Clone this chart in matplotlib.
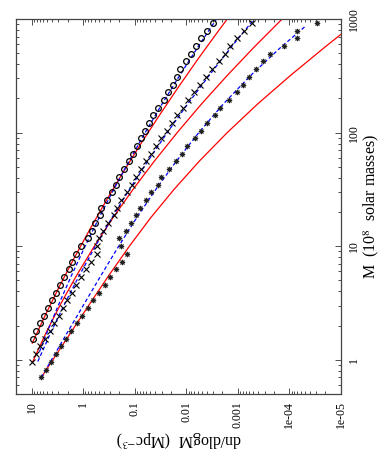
import matplotlib
matplotlib.use('Agg')
import matplotlib.pyplot as plt
from matplotlib.ticker import FixedLocator, NullFormatter

plt.rcParams['font.family'] = ['Liberation Serif', 'DejaVu Serif']
plt.rcParams['mathtext.fontset'] = 'stix'

# ---- data (M in 1e8 solar masses, dn/dlogM in Mpc^-3) ----
mass_bins = [927, 792, 678, 579, 495, 425, 363, 310, 265, 227, 194, 166, 142,
             122, 104, 88.9, 76.0, 65.0, 55.7, 47.6, 40.7, 34.8, 29.8, 25.5,
             21.8, 18.7, 16.0, 13.6, 11.7, 10.0, 8.55, 7.31, 6.25, 5.35, 4.57,
             3.91, 3.34, 2.86, 2.45, 2.09, 1.79, 1.53, 1.31, 1.12, 0.959,
             0.820, 0.701]

circle_n = [0.00302, 0.00394, 0.00522, 0.00634, 0.00793, 0.00991, 0.0130,
            0.0148, 0.0180, 0.0225, 0.0274, 0.0347, 0.0434, 0.0527, 0.0631,
            0.0764, 0.0887, 0.106, 0.129, 0.158, 0.202, 0.226, 0.280, 0.350,
            0.444, 0.479, 0.598, 0.684, 0.807, 1.08, 1.36, 1.65, 1.89, 2.39,
            2.77, 3.42, 4.04, 4.82, 5.77, 6.78, 8.26, 9.27]

cross_n = [5.27e-4, 7.55e-4, 1.06e-3, 1.43e-3, 1.79e-3, 2.34e-3, 3.10e-3,
           4.18e-3, 5.47e-3, 7.06e-3, 9.06e-3, 0.0115, 0.0148, 0.0191,
           0.0236, 0.0303, 0.0391, 0.0474, 0.0593, 0.0741, 0.0957, 0.113,
           0.141, 0.183, 0.217, 0.252, 0.330, 0.413, 0.493, 0.540, 0.540,
           0.693, 0.867, 1.08, 1.36, 1.65, 2.03, 2.47, 2.95, 3.69, 4.47,
           5.59, 6.78, 8.11, 9.69]

star_n = [2.96e-5, 7.24e-5, 7.24e-5, 1.26e-4, 2.39e-4, 3.31e-4, 4.47e-4,
          6.19e-4, 8.11e-4, 1.06e-3, 1.47e-3, 2.17e-3, 2.80e-3, 3.88e-3,
          5.22e-3, 6.74e-3, 9.48e-3, 0.0119, 0.0160, 0.0216, 0.0303, 0.0353,
          0.0474, 0.0604, 0.0775, 0.0927, 0.120, 0.150, 0.205, 0.187, 0.139,
          0.177, 0.226, 0.305, 0.383, 0.500, 0.645, 0.807, 1.05, 1.32, 1.69,
          2.12, 2.65, 3.42, 4.28, 5.35, 6.49]

# model curves (solid red) and fits (dashed blue)
red1_m = [1.40, 2.51, 4.47, 7.94, 14.1, 25.1, 44.7, 79.4, 141, 251, 447, 794,
          1000]
red1_n = [9.68, 5.32, 2.85, 1.474, 0.738, 0.358, 0.168, 0.0763, 0.0335,
          0.01426, 5.87e-3, 2.34e-3, 1.60e-3]
red2_m = [0.966, 1.78, 3.16, 5.62, 10.0, 17.8, 31.6, 56.2, 100, 178, 316, 562,
          1000]
red2_n = [9.44, 5.08, 2.66, 1.309, 0.606, 0.2634, 0.1078, 0.04145, 0.01498,
          5.10e-3, 1.63e-3, 4.90e-4, 1.385e-4]
red3_m = [0.698, 1.78, 3.16, 5.62, 10.0, 17.8, 31.6, 56.2, 100, 178, 316, 562,
          891]
red3_n = [6.49, 1.672, 0.7257, 0.3092, 0.1269, 0.04893, 0.01730, 5.56e-3,
          1.606e-3, 4.17e-4, 9.73e-5, 2.09e-5, 5.84e-6]

blue1_m = [1.18, 1.78, 3.16, 5.62, 10.0, 17.8, 31.6, 56.2, 100, 178, 316, 562,
           1000]
blue1_n = [7.0, 4.91, 2.892, 1.652, 0.914, 0.4903, 0.2548, 0.1283, 0.0626,
           0.02960, 0.01356, 6.02e-3, 2.59e-3]
blue2_m = [0.966, 1.78, 3.16, 5.62, 10.0, 17.8, 31.6, 56.2, 100, 178, 316, 562,
           1000]
blue2_n = [7.55, 4.13, 2.236, 1.162, 0.5784, 0.2763, 0.1265, 0.05555, 0.02338,
           9.44e-3, 3.65e-3, 1.356e-3, 4.83e-4]
blue3_m = [0.698, 1.78, 3.16, 5.62, 10.0, 17.8, 31.6, 56.2, 100, 178, 316, 562,
           851]
blue3_n = [6.49, 1.960, 0.9328, 0.4404, 0.2043, 0.09152, 0.03895, 0.01550,
           5.72e-3, 1.925e-3, 5.74e-4, 1.479e-4, 5.09e-5]

x_ticks = [10, 1, 0.1, 0.01, 1e-3, 1e-4, 1e-5]
x_ticklabels = ['10', '1', '0.1', '0.01', '0.001', '1e-04', '1e-05']
y_ticks = [1, 10, 100, 1000]
y_ticklabels = ['1', '10', '100', '1000']

# ---- figure (rotated gnuplot layout) ----
W, H = 382, 469
fig = plt.figure(figsize=(W / 100, H / 100), dpi=100)
ax = fig.add_axes([16 / W, 75 / H, 325 / W, 375 / H])
ax.set_xscale('log')
ax.set_yscale('log')
ax.set_xlim(20, 1e-5)
ax.set_ylim(0.5, 1000)

red = '#ff0000'
blue = '#0000ff'
for mm, nn in [(red1_m, red1_n), (red2_m, red2_n), (red3_m, red3_n)]:
    ax.plot(nn, mm, color=red, lw=0.9, solid_joinstyle='round', zorder=2)
for mm, nn in [(blue1_m, blue1_n), (blue2_m, blue2_n), (blue3_m, blue3_n)]:
    ax.plot(nn, mm, color=blue, lw=0.9, ls=(0, (3, 2)), zorder=2)

ax.plot(circle_n, mass_bins[:len(circle_n)], 'o', mfc='none', mec='black',
        ms=4.1, mew=0.9, zorder=3)
ax.plot(cross_n, mass_bins[:len(cross_n)], 'x', color='black',
        ms=4.0, mew=0.8, zorder=3)
ax.plot(star_n, mass_bins[:len(star_n)], marker=(8, 2, 0), ls='none',
        color='black', mec='#222222', ms=3.8, mew=0.7, zorder=3)

# ticks
minor_x = [k * 10.0 ** d for d in range(-5, 2) for k in range(2, 10)]
minor_y = [k * 10.0 ** d for d in range(-1, 3) for k in range(2, 10)]
ax.xaxis.set_major_locator(FixedLocator(x_ticks))
ax.xaxis.set_minor_locator(FixedLocator(minor_x))
ax.xaxis.set_minor_formatter(NullFormatter())
ax.set_xticklabels(x_ticklabels, rotation=90, fontsize=8.5)
ax.yaxis.set_major_locator(FixedLocator(y_ticks))
ax.yaxis.set_minor_locator(FixedLocator(minor_y))
ax.yaxis.set_minor_formatter(NullFormatter())
ax.set_yticklabels(y_ticklabels, rotation=90, va='center', fontsize=8.5)

ax.tick_params(which='both', direction='in', top=True, bottom=True,
               left=True, right=True, labelleft=False, labelright=True,
               labelbottom=True, labeltop=False, color='#333333')
ax.tick_params(which='major', length=4, width=0.6, pad=5)
ax.tick_params(which='minor', length=2, width=0.6)
for sp in ax.spines.values():
    sp.set_linewidth(0.9)
    sp.set_color('#444444')

fig.text(371 / W, 1 - 206 / H, 'M  (10$^{8}$  solar masses)', rotation=90,
         ha='center', va='center', fontsize=11.5)
fig.text(178.5 / W, 1 - 438 / H, 'dn/dlogM  (Mpc$^{-3}$)', rotation=180,
         ha='center', va='center', fontsize=11.5)

fig.savefig('out.png', dpi=100)
